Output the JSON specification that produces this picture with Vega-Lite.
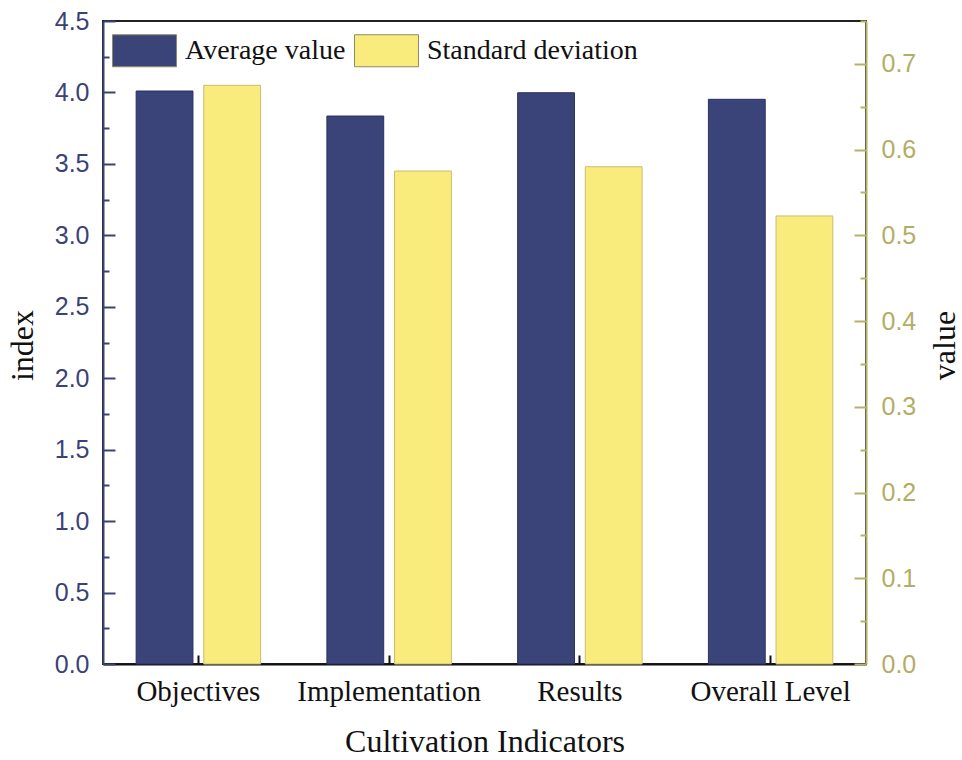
{
  "$schema": "https://vega.github.io/schema/vega-lite/v6.json",
  "width": 763,
  "height": 643,
  "autosize": {"type": "none"},
  "padding": {"left": 103, "top": 21, "right": 96, "bottom": 96},
  "background": "white",
  "view": {"stroke": "#222222", "strokeWidth": 2},
  "data": {
    "values": [
      {"indicator": "Objectives", "series": "Average value", "value": 4.01},
      {"indicator": "Objectives", "series": "Standard deviation", "value": 0.675},
      {"indicator": "Implementation", "series": "Average value", "value": 3.835},
      {"indicator": "Implementation", "series": "Standard deviation", "value": 0.575},
      {"indicator": "Results", "series": "Average value", "value": 3.998},
      {"indicator": "Results", "series": "Standard deviation", "value": 0.58},
      {"indicator": "Overall Level", "series": "Average value", "value": 3.952},
      {"indicator": "Overall Level", "series": "Standard deviation", "value": 0.5226}
    ]
  },
  "encoding": {
    "x": {
      "field": "indicator",
      "type": "nominal",
      "sort": ["Objectives", "Implementation", "Results", "Overall Level"],
      "scale": {"paddingInner": 0, "paddingOuter": 0},
      "axis": {
        "title": "Cultivation Indicators",
        "titleFont": "Liberation Serif",
        "titleFontSize": 32,
        "titleFontWeight": "normal",
        "titleColor": "#111111",
        "titleBaseline": "alphabetic",
        "titleY": 87,
        "labelAngle": 0,
        "labelFont": "Liberation Serif",
        "labelFontSize": 29,
        "labelColor": "#111111",
        "labelBaseline": "alphabetic",
        "labelPadding": 45,
        "labelLimit": 400,
        "tickSize": -9,
        "tickWidth": 2,
        "tickColor": "#111111",
        "domainColor": "#111111",
        "domainWidth": 2,
        "grid": false
      }
    },
    "xOffset": {
      "field": "series",
      "type": "nominal",
      "sort": ["Average value", "Standard deviation"],
      "scale": {"domain": ["Average value", "Standard deviation"], "paddingInner": 0.16, "paddingOuter": 0.49}
    },
    "color": {
      "field": "series",
      "type": "nominal",
      "scale": {"domain": ["Average value", "Standard deviation"], "range": ["#3b4478", "#f9ec7c"]},
      "legend": {
        "orient": "none",
        "legendX": 9,
        "legendY": -3,
        "direction": "horizontal",
        "title": null,
        "padding": 0,
        "symbolType": "M-1,-0.5H1V0.5H-1Z",
        "symbolSize": 4096,
        "symbolStrokeColor": "#8d8a68",
        "symbolStrokeWidth": 1,
        "labelFont": "Liberation Serif",
        "labelFontSize": 28,
        "labelColor": "#111111",
        "labelOffset": 8,
        "labelLimit": 400,
        "columnPadding": 6
      }
    }
  },
  "layer": [
    {
      "transform": [{"filter": "datum.series === 'Average value'"}],
      "mark": {"type": "bar", "stroke": "#2a3062", "strokeWidth": 1},
      "encoding": {
        "y": {
          "field": "value",
          "type": "quantitative",
          "scale": {"domain": [0, 4.5], "nice": false, "zero": true},
          "axis": {
            "orient": "left",
            "title": "index",
            "titleFont": "Liberation Serif",
            "titleFontSize": 32,
            "titleFontWeight": "normal",
            "titleColor": "#111111",
            "titleAngle": 270,
            "titleBaseline": "alphabetic",
            "titleX": -71,
            "titleY": 324,
            "values": [0, 0.25, 0.5, 0.75, 1, 1.25, 1.5, 1.75, 2, 2.25, 2.5, 2.75, 3, 3.25, 3.5, 3.75, 4, 4.25, 4.5],
            "labelExpr": "datum.value % 0.5 === 0 ? format(datum.value, '.1f') : ''",
            "labelFont": "Liberation Sans",
            "labelFontSize": 25,
            "labelColor": "#3b4275",
            "labelPadding": 26,
            "tickSize": {"condition": {"test": "datum.value % 0.5 === 0", "value": -12}, "value": -6},
            "tickWidth": 2,
            "tickColor": "#3b4275",
            "domainColor": "#3b4275",
            "domainWidth": 2,
            "grid": false
          }
        }
      }
    },
    {
      "transform": [{"filter": "datum.series === 'Standard deviation'"}],
      "mark": {"type": "bar", "stroke": "#c8bd70", "strokeWidth": 1},
      "encoding": {
        "y": {
          "field": "value",
          "type": "quantitative",
          "scale": {"domain": [0, 0.75], "nice": false, "zero": true},
          "axis": {
            "orient": "right",
            "title": "value",
            "titleFont": "Liberation Serif",
            "titleFontSize": 32,
            "titleFontWeight": "normal",
            "titleColor": "#111111",
            "titleAngle": 270,
            "titleBaseline": "alphabetic",
            "titleX": 88,
            "titleY": 324,
            "values": [0, 0.05, 0.1, 0.15, 0.2, 0.25, 0.3, 0.35, 0.4, 0.45, 0.5, 0.55, 0.6, 0.65, 0.7, 0.75],
            "labelExpr": "abs(round(datum.value * 10) - datum.value * 10) < 0.001 ? format(datum.value, '.1f') : ''",
            "labelFont": "Liberation Sans",
            "labelFontSize": 25,
            "labelColor": "#b3ad66",
            "labelPadding": 27,
            "tickSize": {"condition": {"test": "abs(round(datum.value * 10) - datum.value * 10) < 0.001", "value": -12}, "value": -6},
            "tickWidth": 2,
            "tickColor": "#b5b06a",
            "domainColor": "#b5b06a",
            "domainWidth": 2,
            "grid": false
          }
        }
      }
    }
  ],
  "resolve": {"scale": {"y": "independent"}}
}
